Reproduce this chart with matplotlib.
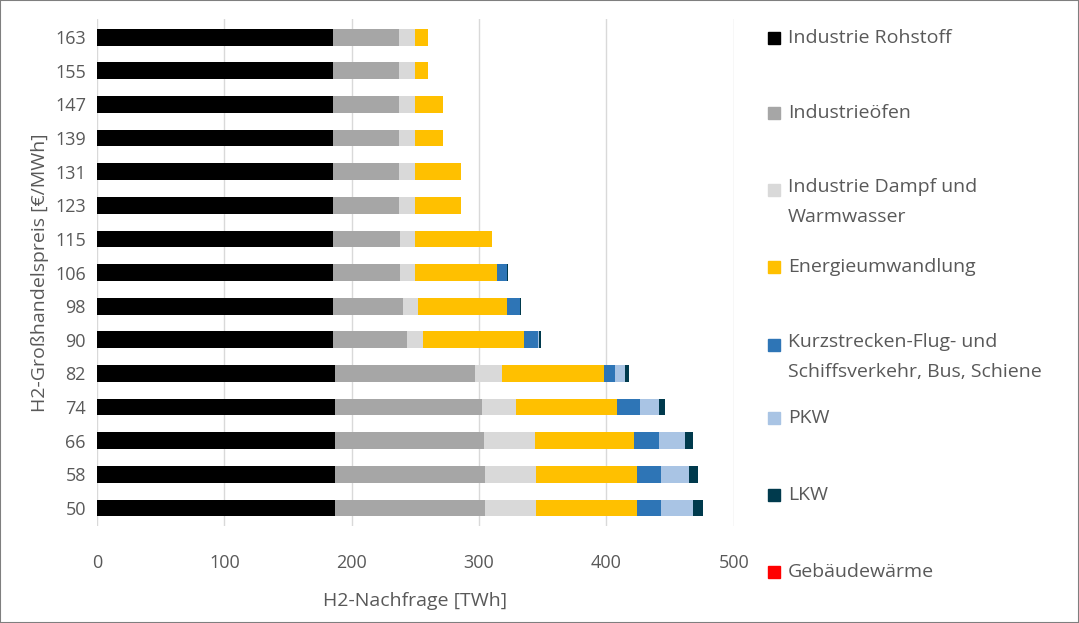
import matplotlib.pyplot as plt
import matplotlib.patches as mpatches
import numpy as np

plt.rcParams['font.family'] = ['Open Sans', 'DejaVu Sans']

prices = [163, 155, 147, 139, 131, 123, 115, 106, 98, 90, 82, 74, 66, 58, 50]
# cumulative end positions (TWh)
ind_roh = [185, 185, 185, 185, 185, 185, 185, 185, 185, 185, 187, 187, 187, 187, 187]
ind_ofen = [237, 237, 237, 237, 237, 237, 238, 238, 240, 243, 297, 302, 304, 305, 305]
ind_dampf = [250, 250, 250, 250, 250, 250, 250, 250, 252, 256, 318, 329, 344, 345, 345]
energie = [260, 260, 272, 272, 286, 286, 310, 314, 322, 335, 398, 408, 422, 424, 424]
kurz = [260, 260, 272, 272, 286, 286, 310, 322, 332, 346, 407, 426, 441, 443, 443]
pkw = [260, 260, 272, 272, 286, 286, 310, 322, 332, 347, 415, 441, 462, 465, 468]
lkw = [260, 260, 272, 272, 286, 286, 310, 323, 333, 349, 418, 446, 468, 472, 476]
geb = lkw

labels = ['Industrie Rohstoff', 'Industrieöfen', 'Industrie Dampf und\nWarmwasser',
          'Energieumwandlung', 'Kurzstrecken-Flug- und\nSchiffsverkehr, Bus, Schiene',
          'PKW', 'LKW', 'Gebäudewärme']
colors = ['#000000', '#a6a6a6', '#d9d9d9', '#ffc000', '#2e75b6', '#a9c4e4', '#003a4d', '#ff0000']
cum = [ind_roh, ind_ofen, ind_dampf, energie, kurz, pkw, lkw, geb]

fig = plt.figure(figsize=(10.79, 6.23), dpi=100)
ax = fig.add_axes([0.09, 0.155, 0.59, 0.815])
y = np.arange(len(prices))
prev = np.zeros(len(prices))
for c, col in zip(cum, colors):
    c = np.array(c, dtype=float)
    ax.barh(y, c - prev, left=prev, color=col, height=0.5, zorder=3)
    prev = c
ax.set_yticks(y)
ax.set_yticklabels(prices)
ax.invert_yaxis()
ax.set_ylim(len(prices) - 0.45, -0.55)
ax.set_xlim(0, 500)
ax.set_xticks([0, 100, 200, 300, 400, 500])
ax.grid(axis='x', color='#d9d9d9', lw=1, zorder=0)
for s in ax.spines.values():
    s.set_visible(False)
ax.tick_params(axis='y', length=0, labelsize=13, colors='#595959', pad=8)
ax.tick_params(axis='x', length=0, labelsize=13, colors='#595959', pad=20)
ax.set_xlabel('H2-Nachfrage [TWh]', fontsize=14, color='#595959', labelpad=14)
ax.set_ylabel('H2-Großhandelspreis [€/MWh]', fontsize=14, color='#595959')

# legend drawn manually to match spacing
ys = [38, 113, 190, 267, 345, 418, 495, 572]
for yy, lab, col in zip(ys, labels, colors):
    fy = 1 - yy / 623
    fig.patches.append(mpatches.Rectangle((768 / 1079, fy - 6 / 623), 12 / 1079, 12 / 623,
                                          color=col, transform=fig.transFigure))
    if '\n' in lab:
        fig.text(788 / 1079, fy + 12 / 623, lab, fontsize=14, color='#595959', va='top',
                 linespacing=1.85)
    else:
        fig.text(788 / 1079, fy, lab, fontsize=14, color='#595959', va='center')

fig.patches.append(mpatches.Rectangle((0, 0), 1, 1, fill=False, ec='#7f7f7f', lw=1.5,
                                      transform=fig.transFigure))
fig.savefig('out.png', dpi=100)
